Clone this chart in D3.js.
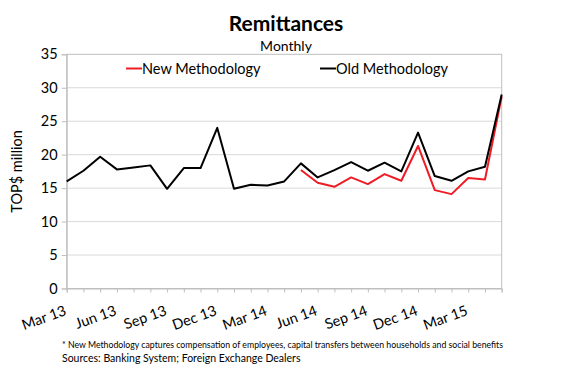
<!DOCTYPE html>
<html>
<head>
<meta charset="utf-8">
<script src="https://cdn.jsdelivr.net/npm/d3@7"></script>
<style>
  html, body { margin: 0; padding: 0; background: #fff; }
  svg { display: block; font-family: Lato, "Open Sans", "Liberation Sans", sans-serif; }
</style>
</head>
<body>
<svg id="chart" width="569" height="378"></svg>
<script>
const months = ["Mar 13","Apr 13","May 13","Jun 13","Jul 13","Aug 13","Sep 13","Oct 13","Nov 13","Dec 13",
  "Jan 14","Feb 14","Mar 14","Apr 14","May 14","Jun 14","Jul 14","Aug 14","Sep 14","Oct 14","Nov 14","Dec 14",
  "Jan 15","Feb 15","Mar 15","Apr 15","May 15"];
const oldMethod = [16.0, 17.6, 19.7, 17.8, 18.1, 18.4, 14.9, 18.0, 18.0, 24.0,
  14.9, 15.5, 15.4, 16.0, 18.7, 16.6, 17.7, 18.9, 17.6, 18.8, 17.5, 23.3,
  16.8, 16.1, 17.5, 18.2, 29.0];
const newMethod = [null, null, null, null, null, null, null, null, null, null,
  null, null, null, null, 17.7, 15.8, 15.2, 16.6, 15.6, 17.1, 16.1, 21.3,
  14.7, 14.1, 16.5, 16.3, 28.7];
const shownTicks = ["Mar 13","Jun 13","Sep 13","Dec 13","Mar 14","Jun 14","Sep 14","Dec 14","Mar 15"];
const yTicks = [0, 5, 10, 15, 20, 25, 30, 35];
const seriesNames = ["New Methodology", "Old Methodology"];
const seriesColors = ["#ee1c25", "#000000"];

const svg = d3.select("#chart");
const L = 66.7, R = 501.7, T = 54.3, B = 288.5;

const x = d3.scalePoint().domain(months).range([L, R]);
const y = d3.scaleLinear().domain([0, 35]).range([B, T]);

// Title
svg.append("text").attr("x", 286).attr("y", 31).attr("text-anchor", "middle")
  .attr("font-size", 21).attr("font-weight", "bold").text("Remittances");
svg.append("text").attr("x", 286).attr("y", 51).attr("text-anchor", "middle")
  .attr("font-size", 14).text("Monthly");

// Gridlines
svg.append("g").selectAll("line").data(yTicks.filter(d => d > 0 && d < 35)).join("line")
  .attr("x1", L).attr("x2", R).attr("y1", d => y(d)).attr("y2", d => y(d))
  .attr("stroke", "#d9d9d9").attr("stroke-width", 1);

// Plot border
svg.append("rect").attr("x", L).attr("y", T).attr("width", R - L).attr("height", B - T)
  .attr("fill", "none").attr("stroke", "#bfbfbf").attr("stroke-width", 1);

// Y axis
const yAxis = svg.append("g").attr("transform", `translate(${L},0)`)
  .call(d3.axisLeft(y).tickValues(yTicks).tickSize(5).tickPadding(4));
yAxis.select(".domain").attr("stroke", "#bfbfbf");
yAxis.selectAll(".tick line").attr("stroke", "#bfbfbf");
yAxis.selectAll(".tick text").attr("font-size", 14.5).attr("font-family", "Lato, sans-serif").attr("fill", "#000");

svg.append("text").attr("transform", `translate(22,${(T + B) / 2}) rotate(-90)`)
  .attr("text-anchor", "middle").attr("font-size", 14.5).text("TOP$ million");

// X axis
const xAxis = svg.append("g").attr("transform", `translate(0,${B})`)
  .call(d3.axisBottom(x).tickSize(4).tickFormat(d => shownTicks.includes(d) ? d : ""));
xAxis.select(".domain").attr("stroke", "#bfbfbf");
xAxis.selectAll(".tick line").attr("stroke", "#bfbfbf");
xAxis.selectAll(".tick text")
  .attr("font-size", 14.5).attr("font-family", "Lato, sans-serif").attr("fill", "#000")
  .attr("text-anchor", "end").attr("x", 0).attr("y", 0).attr("dy", 0)
  .attr("transform", "translate(0,26) rotate(-20)");

// Lines
const line = d3.line().defined(d => d != null)
  .x((d, i) => x(months[i])).y(d => y(d));
[newMethod, oldMethod].forEach((s, k) => {
  svg.append("path").datum(s).attr("d", line)
    .attr("fill", "none").attr("stroke", seriesColors[k]).attr("stroke-width", 2)
    .attr("stroke-linejoin", "round");
});

// Legend
const legendX = [126, 320];
seriesNames.forEach((n, k) => {
  svg.append("line").attr("x1", legendX[k]).attr("x2", legendX[k] + 16)
    .attr("y1", 68.5).attr("y2", 68.5).attr("stroke", seriesColors[k]).attr("stroke-width", 2);
  svg.append("text").attr("x", legendX[k] + 16).attr("y", 73.5)
    .attr("font-size", 14.5).text(n);
});

// Footnotes
svg.append("text").attr("x", 62).attr("y", 348).attr("font-size", 8.5)
  .attr("textLength", 441).attr("lengthAdjust", "spacingAndGlyphs")
  .text("* New Methodology captures compensation of employees, capital transfers between households and social benefits");
svg.append("text").attr("x", 62).attr("y", 362).attr("font-size", 10.5)
  .text("Sources: Banking System; Foreign Exchange Dealers");
</script>
</body>
</html>
